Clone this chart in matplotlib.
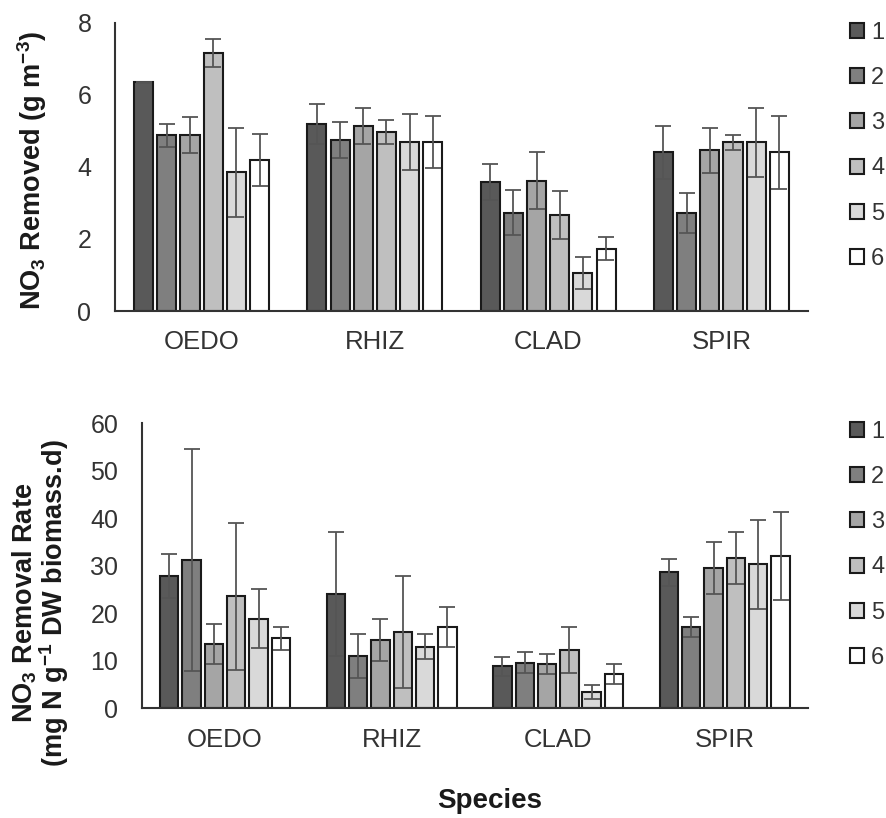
import matplotlib
matplotlib.use('Agg')
import matplotlib.pyplot as plt
import numpy as np

plt.rcParams['font.family'] = ['Liberation Sans', 'DejaVu Sans']
plt.rcParams['mathtext.fontset'] = 'custom'
plt.rcParams['mathtext.rm'] = 'Liberation Sans'
plt.rcParams['mathtext.bf'] = 'Liberation Sans:bold'
plt.rcParams['mathtext.default'] = 'regular'

species = ['OEDO', 'RHIZ', 'CLAD', 'SPIR']
series = ['1', '2', '3', '4', '5', '6']
colors = ['#595959', '#7f7f7f', '#a5a5a5', '#bfbfbf', '#d9d9d9', '#ffffff']

# NO3 removed (g m-3), rows = series 1..6, cols = species
removed = [
    [6.35, 5.19, 3.57, 4.41],
    [4.88, 4.75, 2.73, 2.73],
    [4.88, 5.14, 3.62, 4.46],
    [7.16, 4.97, 2.67, 4.69],
    [3.85, 4.69, 1.05, 4.69],
    [4.19, 4.69, 1.73, 4.41],
]
removed_err = [
    [0.02, 0.56, 0.50, 0.73],
    [0.32, 0.50, 0.62, 0.56],
    [0.50, 0.51, 0.79, 0.62],
    [0.39, 0.34, 0.67, 0.21],
    [1.24, 0.78, 0.45, 0.96],
    [0.73, 0.73, 0.32, 1.01],
]

# NO3 removal rate (mg N g-1 DW biomass.d)
rate = [
    [27.8, 24.1, 8.9, 28.6],
    [31.2, 11.0, 9.6, 17.2],
    [13.5, 14.4, 9.3, 29.5],
    [23.6, 16.0, 12.3, 31.6],
    [18.9, 13.0, 3.4, 30.3],
    [14.7, 17.2, 7.2, 32.1],
]
rate_err = [
    [4.6, 13.0, 2.0, 2.9],
    [23.3, 4.6, 2.2, 2.1],
    [4.2, 4.5, 2.1, 5.5],
    [15.5, 11.8, 4.9, 5.5],
    [6.3, 2.6, 1.5, 9.3],
    [2.5, 4.2, 2.1, 9.2],
]

fig = plt.figure(figsize=(8.86, 8.18), dpi=100)
ax1 = fig.add_axes([0.1298, 0.6198, 0.912 - 0.1298, 0.9719 - 0.6198])
ax2 = fig.add_axes([0.160, 0.1341, 0.912 - 0.160, 0.4825 - 0.1341])

x = np.arange(len(species))
pitch = 0.134
width = 0.11


def draw(ax, vals, errs, ymax, step):
    for j in range(len(series)):
        ax.bar(x + (j - 2.5) * pitch, vals[j], width, color=colors[j],
               edgecolor='#1a1a1a', linewidth=1.5, label=series[j],
               yerr=errs[j], capsize=5.5,
               error_kw=dict(ecolor='#555555', elinewidth=1.3, capthick=1.3),
               zorder=2)
    ax.set_xlim(-0.5, len(species) - 0.5)
    ax.set_ylim(0, ymax)
    ax.set_yticks(np.arange(0, ymax + 0.1, step))
    ax.set_xticks(x)
    ax.set_xticklabels(species)
    for s in ['top', 'right']:
        ax.spines[s].set_visible(False)
    for s in ['left', 'bottom']:
        ax.spines[s].set_color('#333333')
        ax.spines[s].set_linewidth(1.5)
    ax.tick_params(axis='y', length=0, pad=17, labelsize=18, labelcolor='#333333')
    ax.tick_params(axis='x', length=0, pad=14, labelsize=18.5, labelcolor='#333333')


draw(ax1, removed, removed_err, 8, 2)
draw(ax2, rate, rate_err, 60, 10)

for ax, ytop in [(ax1, 22), (ax2, 421)]:
    h, l = ax.get_legend_handles_labels()
    fig.legend(h, l, loc='upper left', bbox_to_anchor=(850 / 886, 1 - ytop / 818),
               frameon=False, fontsize=17, handlelength=0.6, handleheight=0.6,
               handletextpad=0.3, labelspacing=0.98, borderpad=0, borderaxespad=0,
               labelcolor='#333333')

fig.text(0.036, 0.791, r'NO$_3$ Removed (g m$^{-3}$)', rotation=90,
         ha='center', va='center', fontsize=19.5, fontweight='bold', color='#1a1a1a')
fig.text(0.046, 0.263, 'NO$_3$ Removal Rate\n(mg N g$^{-1}$ DW biomass.d)', rotation=90,
         ha='center', va='center', fontsize=19.5, fontweight='bold', color='#1a1a1a',
         multialignment='center', linespacing=0.95)
fig.text(0.553, 0.021, 'Species', ha='center', va='center', fontsize=20,
         fontweight='bold', color='#1a1a1a')

fig.savefig('out.png', dpi=100)
